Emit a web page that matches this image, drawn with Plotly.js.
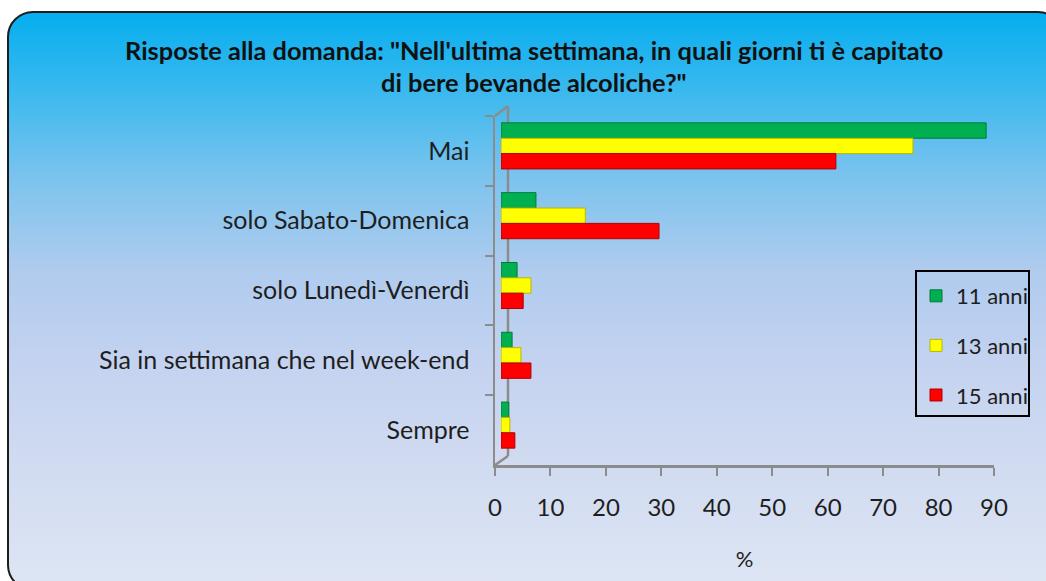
<!DOCTYPE html>
<html><head><meta charset="utf-8">
<script src="https://cdn.plot.ly/plotly-3.0.1.min.js"></script>
<style>
html,body{margin:0;padding:0;width:1046px;height:581px;overflow:hidden;background:#fff;}
#bg{position:absolute;left:7px;top:11px;width:1057px;height:580px;border:2.5px solid #1c1c1c;border-radius:26px;box-sizing:border-box;
background:linear-gradient(to bottom,#06aeef 0%,#3cb9ee 14%,#79c3ee 28%,#aecbee 44%,#c3d2f0 60%,#d2dcf1 80%,#dee6f4 100%);}
#chart{position:absolute;left:0;top:0;width:1046px;height:581px;}
</style></head>
<body><div id="bg"></div><div id="chart"></div>
<script>
const categories = ["Mai","solo Sabato-Domenica","solo Lunedì-Venerdì","Sia in settimana che nel week-end","Sempre"];
const seriesNames = ["11 anni","13 anni","15 anni"];
const values11 = [87.5, 6.3, 2.9, 2.0, 1.4];
const values13 = [74.3, 15.2, 5.4, 3.6, 1.6];
const values15 = [60.4, 28.5, 4.0, 5.4, 2.5];
const xTicks = [0,10,20,30,40,50,60,70,80,90];
const titleLines = ['Risposte alla domanda: "Nell\'ultima settimana, in quali giorni ti è capitato', 'di bere bevande alcoliche?"'];
const xTitle = "%";
const colors = ["#00b050","#ffff00","#ff0000"];
const edgeColors = ["#007a38","#b8b800","#b00000"];

const W = 1046, H = 581;
const px = x => x / W;
const py = y => 1 - y / H;
const FONT = "Lato";
const AX = "#8c8c8c";
const TXT = "#1e1e1e";

const seriesValues = [values11, values13, values15];
const traces = seriesValues.map((vals, i) => ({
  type: "bar", orientation: "h",
  x: vals, y: categories, name: seriesNames[i],
  xaxis: "x", yaxis: "y",
  legendgroup: "g" + i,
  marker: {color: colors[i], line: {color: edgeColors[i], width: 1}},
  hoverinfo: "x+name"
}));
// helper trace to build the visible (front) axes
traces.push({
  type: "scatter", mode: "markers", x: categories.map(() => 0), y: categories,
  xaxis: "x2", yaxis: "y2", showlegend: false, hoverinfo: "skip",
  marker: {opacity: 0, size: 1}
});

const line = (x0, y0, x1, y1) => ({type: "line", xref: "paper", yref: "paper",
  x0: px(x0), y0: py(y0), x1: px(x1), y1: py(y1), layer: "below",
  line: {color: AX, width: 2.5}});

const layout = {
  width: W, height: H,
  margin: {l: 0, r: 0, t: 0, b: 0},
  paper_bgcolor: "rgba(0,0,0,0)", plot_bgcolor: "rgba(0,0,0,0)",
  font: {family: FONT, color: TXT},
  showlegend: true,
  barmode: "group", bargap: 0.34, bargroupgap: 0,
  xaxis: {domain: [px(501), px(1000)], range: [0, 90], visible: false, fixedrange: true},
  yaxis: {domain: [py(460), py(111)], type: "category", categoryarray: categories,
          range: [4.5, -0.5], visible: false, fixedrange: true},
  xaxis2: {domain: [px(495), px(994)], anchor: "y2", range: [0, 90], tickvals: xTicks,
           ticks: "outside", ticklen: 8, tickwidth: 2, tickcolor: AX,
           showline: true, linecolor: AX, linewidth: 2.5, showgrid: false, zeroline: false,
           tickfont: {family: FONT, size: 24, color: TXT}, ticklabelstandoff: 12,
           title: {text: xTitle, font: {family: FONT, size: 22, color: TXT}, standoff: 32}},
  yaxis2: {domain: [py(465), py(116)], anchor: "x2", type: "category", categoryarray: categories,
           range: [4.5, -0.5], tickson: "boundaries", ticks: "outside", ticklen: 8, tickwidth: 2,
           tickcolor: AX, showline: true, linecolor: AX, linewidth: 2.5, showgrid: false,
           tickfont: {family: FONT, size: 25, color: TXT}, ticklabelstandoff: 18},
  legend: {x: px(916), y: py(275), xanchor: "left", yanchor: "top",
           borderwidth: 0, bgcolor: "rgba(0,0,0,0)",
           font: {family: FONT, size: 22, color: TXT},
           traceorder: "grouped", tracegroupgap: 18},
  annotations: titleLines.map((t, i) => ({
    text: t, xref: "paper", yref: "paper", x: px(534), y: py(50 + 32 * i),
    xanchor: "center", yanchor: "middle", showarrow: false,
    font: {family: FONT, size: 25.4, color: "#111", weight: "bold"}
  })),
  shapes: [
    line(495, 116, 508, 106),
    line(508, 106, 508, 456),
    line(495, 465, 508, 456),
    {type: "rect", xref: "paper", yref: "paper", x0: px(916), y0: py(416), x1: px(1029), y1: py(271),
     line: {color: "#000", width: 2}, layer: "above"}
  ]
};

Plotly.newPlot("chart", traces, layout, {displayModeBar: false, staticPlot: true});
</script>
</body></html>
